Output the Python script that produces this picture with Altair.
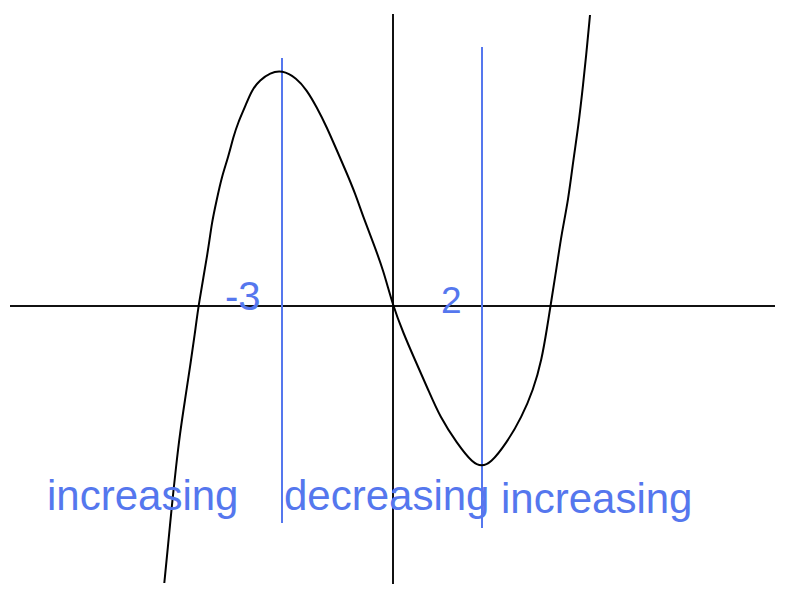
import altair as alt
import pandas as pd

# Curve points (data units)
curve_x = [-5.7175, -5.6175, -5.5325, -5.425, -5.325, -5.2, -5.075, -4.95, -4.8675,
           -4.6175, -4.5325, -4.4075, -4.2825, -4.1175, -3.9925, -3.8675, -3.7, -3.5325,
           -3.325, -3.075, -2.7825, -2.4075, -2.1575, -1.9075, -1.6575, -1.4075, -1.1575,
           -0.95, -0.7425, -0.4925, -0.2425, 0.0, 0.2575, 0.55, 0.8825, 1.175, 1.5925,
           2.0075, 2.2175, 2.425, 2.8425, 3.2175, 3.5075, 3.7175, 3.855, 3.9375, 4.0925,
           4.2175, 4.3825, 4.5075, 4.6325, 4.7575, 4.8425, 4.925]
curve_y = [-6.925, -5.925, -5.025, -4.025, -3.175, -2.35, -1.525, -0.675, 0.0,
           1.4, 2.075, 2.65, 3.225, 3.725, 4.225, 4.6, 4.975, 5.4,
           5.65, 5.825, 5.9, 5.7, 5.4, 4.975, 4.475, 3.9, 3.325,
           2.825, 2.225, 1.575, 0.9, 0.0, -0.675, -1.35, -2.1, -2.775, -3.425,
           -3.95, -4.0, -3.95, -3.425, -2.775, -2.1, -1.35, -0.525, 0.0, 0.975,
           1.825, 2.65, 3.65, 4.475, 5.575, 6.4, 7.275]

# Critical-point marker lines
crit_x = [-2.775, 2.225]
crit_top = [6.2, 6.475]
crit_bottom = [-5.425, -5.55]

# Coordinate axes (drawn as lines)
haxis_x = [-9.575, 9.55]
vaxis_y = [7.3, -6.95]

# Labels
label_text = ["-3", "2"]
label_x = [-4.2, 1.2]
label_y = [-0.1, -0.175]
label_size = [40, 37]

word_text = ["increasing", "decreasing", "increasing"]
word_x = [-8.65, -2.725, 2.7]
word_y = [-5.1, -5.1, -5.175]

XDOM = [-9.625, 9.65]
YDOM = [-7.025, 7.45]
BLUE = "#5577ee"

xs = alt.Scale(domain=XDOM, nice=False, zero=False)
ys = alt.Scale(domain=YDOM, nice=False, zero=False)

curve_df = pd.DataFrame({"x": curve_x, "y": curve_y})
crit_df = pd.DataFrame({"x": crit_x, "top": crit_top, "bottom": crit_bottom})
hax_df = pd.DataFrame({"x": [haxis_x[0]], "x2": [haxis_x[1]], "y": [0.0]})
vax_df = pd.DataFrame({"x": [0.0], "y": [vaxis_y[0]], "y2": [vaxis_y[1]]})
lab_df = pd.DataFrame({"t": label_text, "x": label_x, "y": label_y, "s": label_size})
word_df = pd.DataFrame({"t": word_text, "x": word_x, "y": word_y})

hax = alt.Chart(hax_df).mark_rule(color="#111111", strokeWidth=2).encode(
    x=alt.X("x:Q", scale=xs, axis=None), x2="x2:Q",
    y=alt.Y("y:Q", scale=ys, axis=None))
vax = alt.Chart(vax_df).mark_rule(color="#111111", strokeWidth=2).encode(
    x=alt.X("x:Q", scale=xs, axis=None),
    y=alt.Y("y:Q", scale=ys, axis=None), y2="y2:Q")
crit = alt.Chart(crit_df).mark_rule(color=BLUE, strokeWidth=2).encode(
    x=alt.X("x:Q", scale=xs, axis=None),
    y=alt.Y("top:Q", scale=ys, axis=None), y2="bottom:Q")
curve = alt.Chart(curve_df).mark_line(color="#000000", strokeWidth=2, interpolate="basis").encode(
    x=alt.X("x:Q", scale=xs, axis=None),
    y=alt.Y("y:Q", scale=ys, axis=None), order="x:Q")
labels = alt.Chart(lab_df).mark_text(color=BLUE, align="left", baseline="alphabetic",
                                     font="Liberation Sans").encode(
    x=alt.X("x:Q", scale=xs, axis=None),
    y=alt.Y("y:Q", scale=ys, axis=None),
    text="t:N", size=alt.Size("s:Q", scale=None, legend=None))
words = alt.Chart(word_df).mark_text(color=BLUE, align="left", baseline="alphabetic",
                                     font="Liberation Sans", fontSize=42).encode(
    x=alt.X("x:Q", scale=xs, axis=None),
    y=alt.Y("y:Q", scale=ys, axis=None),
    text="t:N")

chart = alt.layer(hax, vax, crit, curve, labels, words).properties(
    width=771, height=579, padding=0, autosize=alt.AutoSizeParams(type="none"),
    background="white"
).configure_view(stroke=None)

chart.save("out.html", embed_options={"renderer": "svg", "actions": False})
